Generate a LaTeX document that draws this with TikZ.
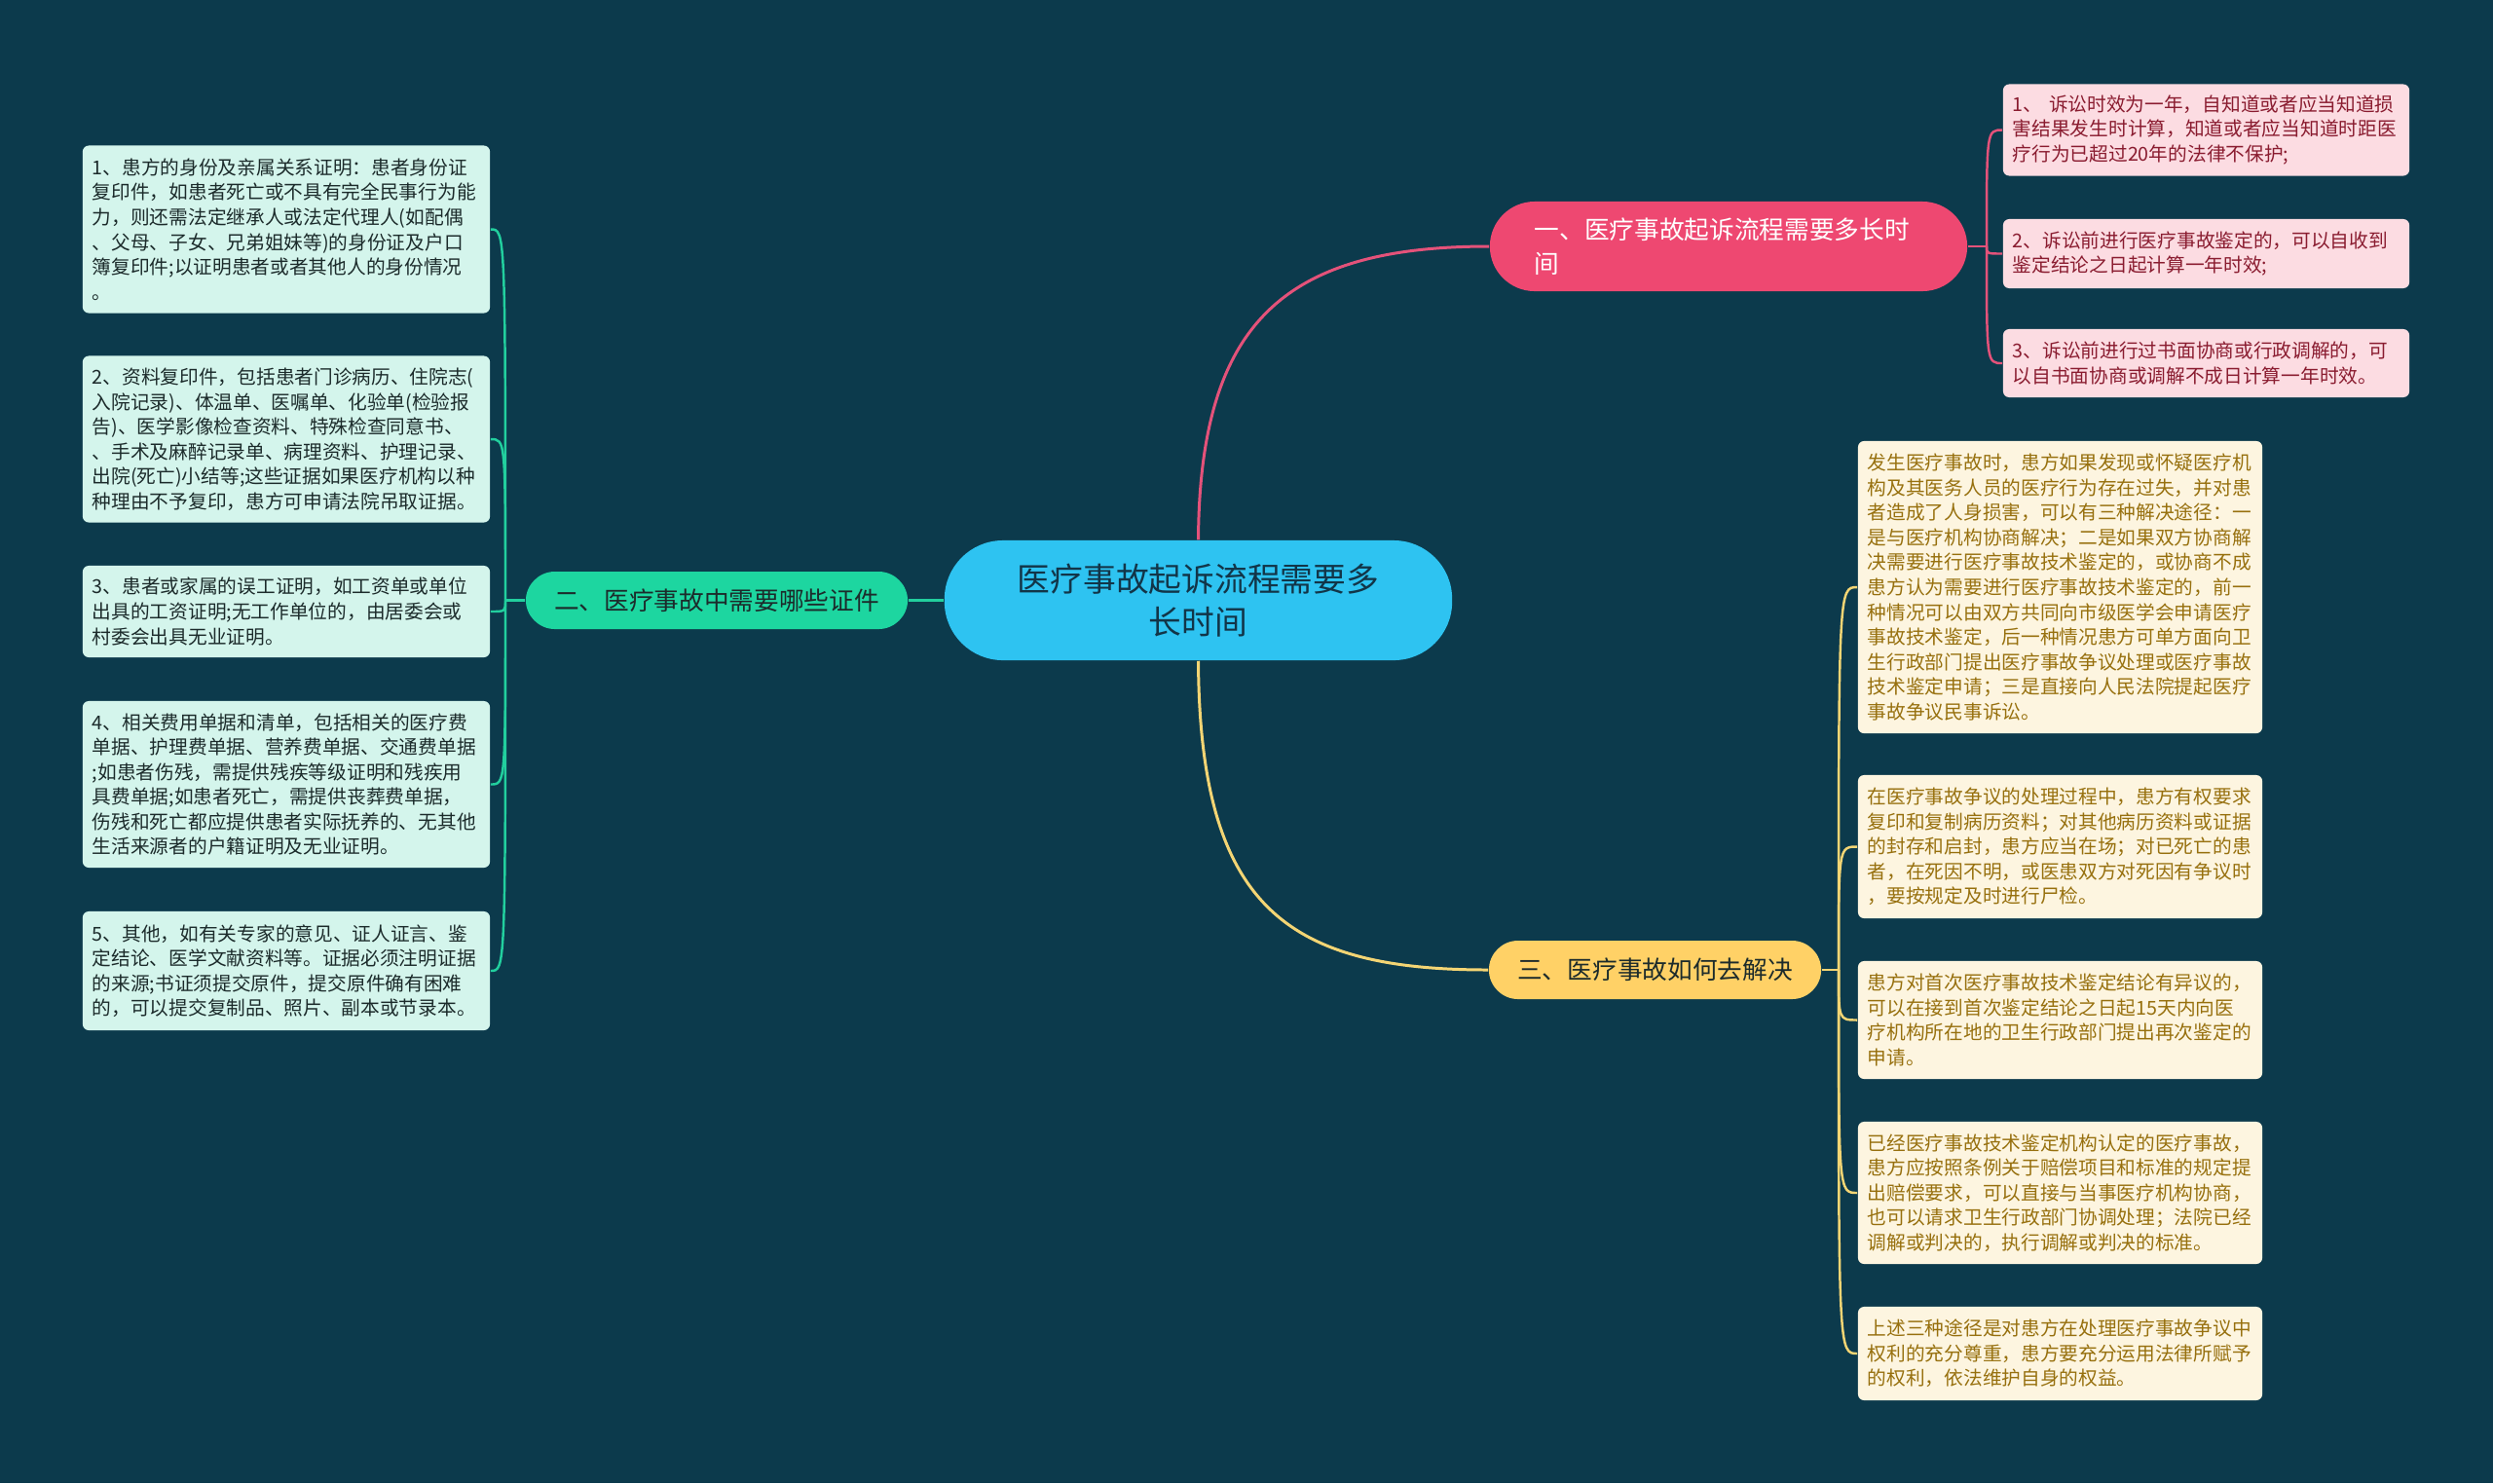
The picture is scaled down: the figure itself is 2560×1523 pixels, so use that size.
\documentclass[tikz,border=0pt]{standalone}
\usepackage{fontspec}
\setmainfont{Noto Sans CJK SC}
\definecolor{bgcol}{HTML}{0C3A4C}
\definecolor{rootcol}{HTML}{2EC3F1}
\definecolor{roottext}{HTML}{123548}
\definecolor{pinkcol}{HTML}{EE4871}
\definecolor{pinkleaf}{HTML}{FCDCE2}
\definecolor{pinktext}{HTML}{8A1C30}
\definecolor{pinkline}{HTML}{E4527A}
\definecolor{greencol}{HTML}{1DD6A0}
\definecolor{greenleaf}{HTML}{D4F5EC}
\definecolor{greenline}{HTML}{22CF9E}
\definecolor{yellowcol}{HTML}{FFD166}
\definecolor{yellowleaf}{HTML}{FDF5E0}
\definecolor{yellowtext}{HTML}{97700E}
\definecolor{yellowline}{HTML}{F4D574}
\definecolor{darktext}{HTML}{1C2B2B}
\begin{document}
\begin{tikzpicture}[x=0.01cm, y=-0.01cm,
    rootnode/.style={fill=rootcol, text=roottext, rounded corners=0.6cm, align=center,
      minimum width=5.21cm, minimum height=1.23cm,
      font=\fontsize{9.6pt}{12.6pt}\selectfont},
    topic/.style={rounded corners=0.3cm, minimum height=0.6cm,
      font=\fontsize{7.3pt}{9.8pt}\selectfont},
    leaf/.style={rounded corners=1.8pt, inner xsep=0.1cm, inner ysep=2pt, align=left,
      font=\fontsize{5.6pt}{7.26pt}\selectfont},
    link/.style={line width=0.85pt},
    twig/.style={line width=0.7pt}]
  \fill[bgcol] (0,0) rectangle (2560,1523);
  \useasboundingbox (0,0) rectangle (2560,1523);

  % centre
  \node[rootnode] (root) at (1230.5,616.5) {医疗事故起诉流程需要多\\长时间};

  % main topics
  \node[topic, fill=pinkcol, text=white, rounded corners=0.46cm, minimum width=4.9cm,
    minimum height=0.92cm, inner xsep=0.46cm, text width=3.98cm, align=left]
    (b1) at (1775,253) {一、医疗事故起诉流程需要多长时\\间};
  \node[topic, fill=greencol, text=darktext, minimum width=3.92cm, minimum height=0.59cm]
    (b2) at (736,616.5) {二、医疗事故中需要哪些证件};
  \node[topic, fill=yellowcol, text=darktext, minimum width=3.41cm]
    (b3) at (1699.5,996) {三、医疗事故如何去解决};

  % left leaves
  \node[leaf, fill=greenleaf, text=darktext, text width=3.98cm, minimum height=1.72cm]
    (l1) at (294,235.5) {1、患方的身份及亲属关系证明：患者身份证\\复印件，如患者死亡或不具有完全民事行为能\\力，则还需法定继承人或法定代理人(如配偶\\、父母、子女、兄弟姐妹等)的身份证及户口\\簿复印件;以证明患者或者其他人的身份情况\\。};
  \node[leaf, fill=greenleaf, text=darktext, text width=3.98cm, minimum height=1.71cm]
    (l2) at (294,451) {2、资料复印件，包括患者门诊病历、住院志(\\入院记录)、体温单、医嘱单、化验单(检验报\\告)、医学影像检查资料、特殊检查同意书、\\、手术及麻醉记录单、病理资料、护理记录、\\出院(死亡)小结等;这些证据如果医疗机构以种\\种理由不予复印，患方可申请法院吊取证据。};
  \node[leaf, fill=greenleaf, text=darktext, text width=3.98cm, minimum height=0.94cm]
    (l3) at (294,628) {3、患者或家属的误工证明，如工资单或单位\\出具的工资证明;无工作单位的，由居委会或\\村委会出具无业证明。};
  \node[leaf, fill=greenleaf, text=darktext, text width=3.98cm, minimum height=1.71cm]
    (l4) at (294,805.5) {4、相关费用单据和清单，包括相关的医疗费\\单据、护理费单据、营养费单据、交通费单据\\;如患者伤残，需提供残疾等级证明和残疾用\\具费单据;如患者死亡，需提供丧葬费单据，\\伤残和死亡都应提供患者实际抚养的、无其他\\生活来源者的户籍证明及无业证明。};
  \node[leaf, fill=greenleaf, text=darktext, text width=3.98cm, minimum height=1.22cm]
    (l5) at (294,997) {5、其他，如有关专家的意见、证人证言、鉴\\定结论、医学文献资料等。证据必须注明证据\\的来源;书证须提交原件，提交原件确有困难\\的，可以提交复制品、照片、副本或节录本。};

  % right leaves, first topic
  \node[leaf, fill=pinkleaf, text=pinktext, text width=3.97cm, minimum height=0.94cm]
    (r1) at (2265.5,133.5) {1、 诉讼时效为一年，自知道或者应当知道损\\害结果发生时计算，知道或者应当知道时距医\\疗行为已超过20年的法律不保护;};
  \node[leaf, fill=pinkleaf, text=pinktext, text width=3.97cm, minimum height=0.71cm]
    (r2) at (2265.5,260.5) {2、诉讼前进行医疗事故鉴定的，可以自收到\\鉴定结论之日起计算一年时效;};
  \node[leaf, fill=pinkleaf, text=pinktext, text width=3.97cm, minimum height=0.70cm]
    (r3) at (2265.5,373) {3、诉讼前进行过书面协商或行政调解的，可\\以自书面协商或调解不成日计算一年时效。};

  % right leaves, third topic
  \node[leaf, fill=yellowleaf, text=yellowtext, text width=3.95cm, minimum height=3.0cm]
    (y1) at (2115.5,603) {发生医疗事故时，患方如果发现或怀疑医疗机\\构及其医务人员的医疗行为存在过失，并对患\\者造成了人身损害，可以有三种解决途径：一\\是与医疗机构协商解决；二是如果双方协商解\\决需要进行医疗事故技术鉴定的，或协商不成\\患方认为需要进行医疗事故技术鉴定的，前一\\种情况可以由双方共同向市级医学会申请医疗\\事故技术鉴定，后一种情况患方可单方面向卫\\生行政部门提出医疗事故争议处理或医疗事故\\技术鉴定申请；三是直接向人民法院提起医疗\\事故争议民事诉讼。};
  \node[leaf, fill=yellowleaf, text=yellowtext, text width=3.95cm, minimum height=1.47cm]
    (y2) at (2115.5,869.5) {在医疗事故争议的处理过程中，患方有权要求\\复印和复制病历资料；对其他病历资料或证据\\的封存和启封，患方应当在场；对已死亡的患\\者，在死因不明，或医患双方对死因有争议时\\，要按规定及时进行尸检。};
  \node[leaf, fill=yellowleaf, text=yellowtext, text width=3.95cm, minimum height=1.21cm]
    (y3) at (2115.5,1047.5) {患方对首次医疗事故技术鉴定结论有异议的，\\可以在接到首次鉴定结论之日起15天内向医\\疗机构所在地的卫生行政部门提出再次鉴定的\\申请。};
  \node[leaf, fill=yellowleaf, text=yellowtext, text width=3.95cm, minimum height=1.46cm]
    (y4) at (2115.5,1225) {已经医疗事故技术鉴定机构认定的医疗事故，\\患方应按照条例关于赔偿项目和标准的规定提\\出赔偿要求，可以直接与当事医疗机构协商，\\也可以请求卫生行政部门协调处理；法院已经\\调解或判决的，执行调解或判决的标准。};
  \node[leaf, fill=yellowleaf, text=yellowtext, text width=3.95cm, minimum height=0.96cm]
    (y5) at (2115.5,1390) {上述三种途径是对患方在处理医疗事故争议中\\权利的充分尊重，患方要充分运用法律所赋予\\的权利，依法维护自身的权益。};

  % centre to topics
  \draw[link, pinkline] (root.north) .. controls (1232,330) and (1320,253) .. (b1.west);
  \draw[link, greenline] (root.west) -- (b2.east);
  \draw[link, yellowline] (root.south) .. controls (1232,930) and (1320,996) .. (b3.west);

  % topics to leaves
  \coordinate (j1) at (2040,253);
  \coordinate (j2) at (519,616.5);
  \coordinate (j3) at (1888,996);
  \draw[twig, pinkline] (b1.east) -- (j1);
  \foreach \n in {r1,r2,r3}
    \draw[twig, pinkline] (j1) .. controls (j1 |- \n.west) .. (\n.west);
  \draw[twig, greenline] (b2.west) -- (j2);
  \foreach \n in {l1,l2,l3,l4,l5}
    \draw[twig, greenline] (j2) .. controls (j2 |- \n.east) .. (\n.east);
  \draw[twig, yellowline] (b3.east) -- (j3);
  \foreach \n in {y1,y2,y3,y4,y5}
    \draw[twig, yellowline] (j3) .. controls (j3 |- \n.west) .. (\n.west);
\end{tikzpicture}
\end{document}
